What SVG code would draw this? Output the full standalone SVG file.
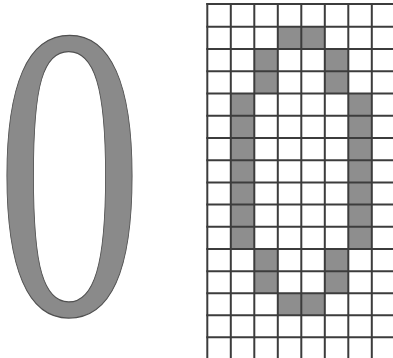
<svg xmlns="http://www.w3.org/2000/svg" width="393" height="358" viewBox="0 0 393 358">
<style>
.glyph{font-family:"Liberation Serif","Times New Roman",serif;font-size:419px;fill:#8a8a8a;stroke:#505050;stroke-width:1.2px}
.cell{fill:#8e8e8e}
.grid line{stroke:#3c3c3c;stroke-width:2}
</style>
<rect width="393" height="358" fill="#ffffff"/>
<g id="glyph-zero">
<text class="glyph" transform="translate(69.5,314) scale(0.705,1)" text-anchor="middle">0</text>
</g>
<g id="bitmap-cells">
<rect class="cell" x="277.8" y="26.7" width="47" height="22.3"/>
<rect class="cell" x="254.3" y="49" width="23.5" height="45"/>
<rect class="cell" x="324.8" y="49" width="23.5" height="45"/>
<rect class="cell" x="230.8" y="94" width="23.5" height="155"/>
<rect class="cell" x="348.3" y="94" width="23.5" height="155"/>
<rect class="cell" x="254.3" y="249" width="23.5" height="44"/>
<rect class="cell" x="324.8" y="249" width="23.5" height="44"/>
<rect class="cell" x="277.8" y="293" width="47" height="22"/>
</g>
<g id="bitmap-grid" class="grid">
<line x1="207.3" y1="3" x2="207.3" y2="358"/>
<line x1="230.8" y1="3" x2="230.8" y2="358"/>
<line x1="254.3" y1="3" x2="254.3" y2="358"/>
<line x1="277.8" y1="3" x2="277.8" y2="358"/>
<line x1="301.3" y1="3" x2="301.3" y2="358"/>
<line x1="324.8" y1="3" x2="324.8" y2="358"/>
<line x1="348.3" y1="3" x2="348.3" y2="358"/>
<line x1="371.8" y1="3" x2="371.8" y2="358"/>
<line x1="206.3" y1="4" x2="393" y2="4"/>
<line x1="206.3" y1="26.7" x2="393" y2="26.7"/>
<line x1="206.3" y1="49" x2="393" y2="49"/>
<line x1="206.3" y1="71.3" x2="393" y2="71.3"/>
<line x1="206.3" y1="93.6" x2="393" y2="93.6"/>
<line x1="206.3" y1="115.8" x2="393" y2="115.8"/>
<line x1="206.3" y1="138" x2="393" y2="138"/>
<line x1="206.3" y1="160.2" x2="393" y2="160.2"/>
<line x1="206.3" y1="182.4" x2="393" y2="182.4"/>
<line x1="206.3" y1="204.6" x2="393" y2="204.6"/>
<line x1="206.3" y1="226.8" x2="393" y2="226.8"/>
<line x1="206.3" y1="249" x2="393" y2="249"/>
<line x1="206.3" y1="271.2" x2="393" y2="271.2"/>
<line x1="206.3" y1="293.2" x2="393" y2="293.2"/>
<line x1="206.3" y1="315.2" x2="393" y2="315.2"/>
<line x1="206.3" y1="337.2" x2="393" y2="337.2"/>
</g>
</svg>
